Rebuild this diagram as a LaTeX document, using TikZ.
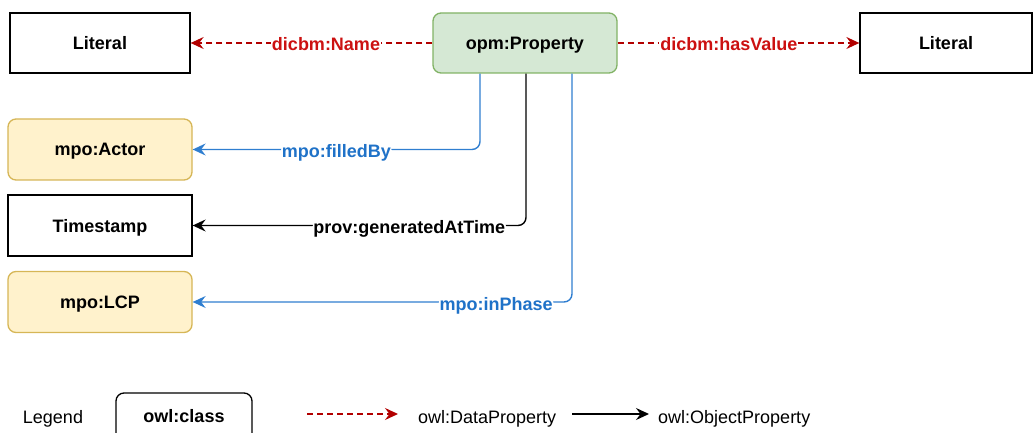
\documentclass[tikz,border=0pt]{standalone}
\usepackage{fontspec}
\setmainfont{Liberation Sans}
\usetikzlibrary{arrows.meta,calc}
\definecolor{gfill}{HTML}{D5E8D4}
\definecolor{gdraw}{HTML}{82B366}
\definecolor{yfill}{HTML}{FFF2CC}
\definecolor{ydraw}{HTML}{D6B656}
\definecolor{dred}{HTML}{B20000}
\definecolor{lred}{HTML}{CC1111}
\definecolor{oblue}{HTML}{2F7ED0}
\definecolor{tblue}{HTML}{1F72C8}
\tikzset{
  cls/.style={draw, line width=1.3pt, minimum height=60pt, inner sep=0pt,
    font=\fontsize{18}{21}\selectfont\bfseries, text height=13pt, text depth=0pt},
  green/.style={cls, rounded corners=8pt, fill=gfill, draw=gdraw},
  yellow/.style={cls, rounded corners=8pt, fill=yfill, draw=ydraw},
  tip/.style={-{Stealth[length=13pt,width=12pt,inset=4.5pt]}},
  dataprop/.style={tip, dred, line width=1.4pt, dash pattern=on 6pt off 4pt},
  objprop/.style={tip, line width=1.4pt, rounded corners=8pt},
  lab/.style={fill=white, inner sep=1pt, yshift=-1.5pt,
    font=\fontsize{18}{21}\selectfont\bfseries, text height=13pt, text depth=0pt},
  legtext/.style={font=\fontsize{18}{21}\selectfont, inner sep=0pt, text height=13pt, text depth=0pt}
}
\begin{document}
\begin{tikzpicture}[x=1pt,y=-1pt]
\clip (0,0) rectangle (1034,433);
\useasboundingbox (0,0) rectangle (1034,433);

\node[cls, minimum width=180pt] (lit1) at (100,43) {Literal};
\node[green, minimum width=184pt] (prop) at (525,43) {opm:Property};
\node[cls, minimum width=172pt] (lit2) at (946,43) {Literal};
\node[yellow, minimum width=184pt, minimum height=61pt] (actor) at (100,149.5) {mpo:Actor};
\node[cls, minimum width=184pt, minimum height=61pt] (ts) at (100,225.5) {Timestamp};
\node[yellow, minimum width=184pt, minimum height=61pt] (lcp) at (100,302) {mpo:LCP};

\draw[dataprop] (prop.west) -- node[lab, text=lred, pos=0.44] {dicbm:Name} (lit1.east);
\draw[dataprop] (prop.east) -- node[lab, text=lred, pos=0.46] {dicbm:hasValue} (lit2.west);

\coordinate (s1) at ($(prop.south)+(-45,0)$);
\coordinate (s2) at ($(prop.south)+(1,0)$);
\coordinate (s3) at ($(prop.south)+(47,0)$);
\draw[objprop, oblue] (s1) |- node[lab, text=tblue, pos=0.75] {mpo:filledBy} (actor.east);
\draw[objprop, black] (s2) |- node[lab, text=black, pos=0.675] {prov:generatedAtTime} (ts.east);
\draw[objprop, oblue] (s3) |- node[lab, text=tblue, pos=0.6] {mpo:inPhase} (lcp.east);

% legend
\node[legtext] (legend) at (53,417) {Legend};
\draw[line width=1.3pt, rounded corners=8pt] (116,450) -- (116,393) -- (252,393) -- (252,450);
\node[font=\fontsize{18}{21}\selectfont\bfseries, text height=13pt, text depth=0pt, inner sep=0pt] (owlclass) at (184,416) {owl:class};
\coordinate (d1) at (307,414);
\coordinate (d2) at (398,414);
\draw[dataprop] (d1) -- (d2);
\node[legtext, anchor=west] (dp) at (418,417) {owl:DataProperty};
\coordinate (o1) at (572,414);
\coordinate (o2) at (649,414);
\draw[objprop, black] (o1) -- (o2);
\node[legtext, anchor=west] (op) at (658,417) {owl:ObjectProperty};
\end{tikzpicture}
\end{document}
